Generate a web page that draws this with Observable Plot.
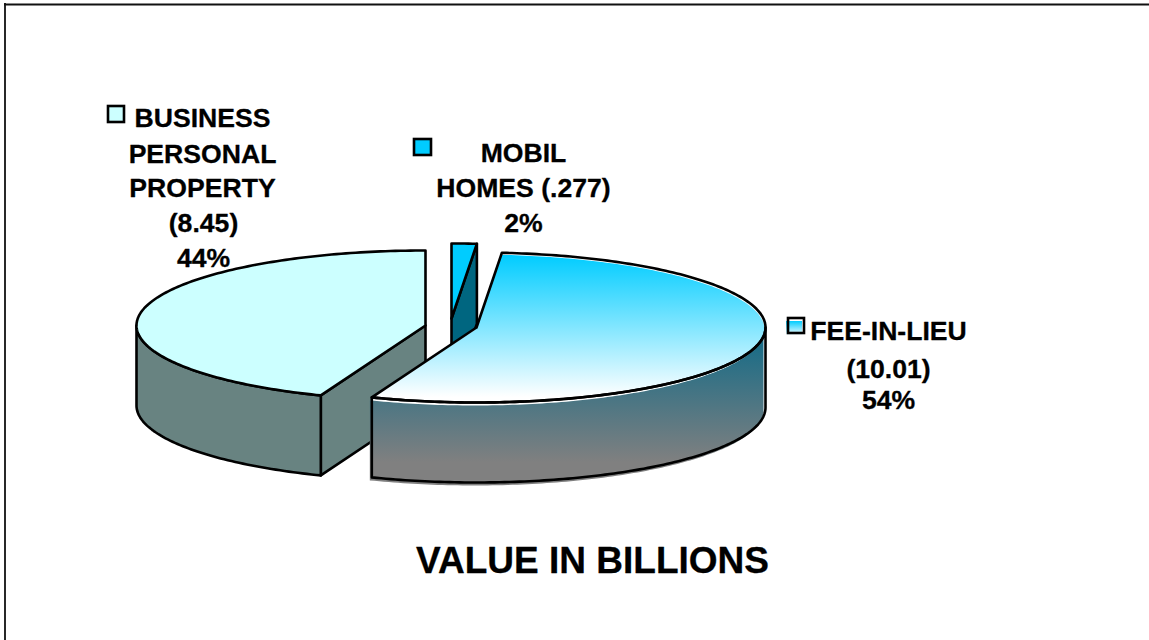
<!DOCTYPE html>
<html>
<head>
<meta charset="utf-8">
<style>html,body{margin:0;padding:0;background:#fff}svg{display:block}</style>
<script src="https://cdn.jsdelivr.net/npm/d3@7"></script>
<script src="https://cdn.jsdelivr.net/npm/@observablehq/plot@0.6"></script>
</head>
<body>
<script>
// ---- data ----
const categories = ["MOBIL HOMES", "FEE-IN-LIEU", "BUSINESS PERSONAL PROPERTY"];
const drawnShare = [1.4, 54.5, 44.1]; // percent of the circle each slice occupies, clockwise from 12 o'clock
const labelLines = [
  ["BUSINESS", "PERSONAL", "PROPERTY", "(8.45)", "44%"],
  ["MOBIL", "HOMES (.277)", "2%"],
  ["FEE-IN-LIEU", "(10.01)", "54%"]
];
const chartTitle = "VALUE IN BILLIONS";

// ---- layout ----
const W = 1149, H = 640;
const rx = 289, ry = 75, depth = 80;
const centers = {"MOBIL HOMES": [451, 318], "FEE-IN-LIEU": [476, 327], "BUSINESS PERSONAL PROPERTY": [425, 325]};
const labelLayout = [
  {x: [202, 202, 202, 203, 203], y: [126, 162, 196, 231, 266]},
  {x: [523, 523, 523], y: [161, 196, 231]},
  {x: [888, 888, 888], y: [339, 377, 408]}
];
const keys = [
  {x1: 108, x2: 124, y1: 106, y2: 122, fill: "#ccffff"},
  {x1: 414, x2: 431, y1: 139, y2: 155, fill: "#00ccff"},
  {x1: 788, x2: 804, y1: 318, y2: 333, fill: "url(#feeTop)"}
];

// ---- slices from the shares ----
let acc = 0;
const slices = categories.map((name, i) => {
  const a0 = acc; acc += drawnShare[i] * 3.6;
  return {name, a0, a1: acc, c: centers[name]};
});
const rad = Math.PI / 180;
const rimPt = (s, a, z = 0) => ({x: s.c[0] + rx * Math.sin(a * rad), y: s.c[1] - ry * Math.cos(a * rad) + z});
const arc = (s, a0, a1, z = 0) => {
  const n = Math.max(2, Math.ceil(Math.abs(a1 - a0)));
  return d3.range(n + 1).map(i => rimPt(s, a0 + (a1 - a0) * i / n, z));
};
const ctr = (s, z = 0) => ({x: s.c[0], y: s.c[1] + z});
const topFace = s => [ctr(s), ...arc(s, s.a0, s.a1), ctr(s)];
const sideFace = (s, a0, a1) => {
  const t = arc(s, a0, a1), b = arc(s, a0, a1, depth).reverse();
  return [...t, ...b, t[0]];
};
const wall = (s, a) => {
  const r = rimPt(s, a), rb = rimPt(s, a, depth);
  return [ctr(s), r, rb, ctr(s, depth), ctr(s)];
};
const [mobil, fee, biz] = slices;

const XY = {x: "x", y: "y"};
const sw = 2.6;
const face = (pts, fill, extra = {}) => Plot.line(pts, {...XY, fill, stroke: "none", ...extra});
const edge = pts => Plot.line(pts, {...XY, stroke: "#000", strokeWidth: sw, strokeLinejoin: "round"});
const both = (pts, fill) => [face(pts, fill), edge(pts)];

const bizDark = "#688381", mobilDark = "#006680", cyan = "#00ccff", pale = "#ccffff";

const defs = () => {
  const d = d3.create("svg:defs");
  d.html(`
    <linearGradient id="feeTop" x1="0" y1="0" x2="0" y2="1">
      <stop offset="0" stop-color="#00ccff"/><stop offset="0.95" stop-color="#ffffff"/>
    </linearGradient>
    <linearGradient id="feeSide" x1="0" y1="0" x2="0" y2="1">
      <stop offset="0" stop-color="#0f6a87"/><stop offset="0.85" stop-color="#808080"/>
    </linearGradient>`);
  return d.node();
};

const rows = labelLines.flatMap((ls, i) => ls.map((text, j) => ({text, x: labelLayout[i].x[j], y: labelLayout[i].y[j]})));
const font = "'Liberation Sans', Arial, sans-serif";

const plot = Plot.plot({
  width: W, height: H, margin: 0,
  style: {background: "#fff"},
  x: {domain: [0, W], range: [0, W], axis: null},
  y: {domain: [0, H], range: [0, H], axis: null},
  marks: [
    defs,
    Plot.ruleY([4], {x1: 4, x2: W, stroke: "#111", strokeWidth: 1.8}),
    Plot.ruleX([4.5], {y1: 3, y2: H, stroke: "#111", strokeWidth: 1.8}),

    // business slice
    both(wall(biz, biz.a0), bizDark),
    both(sideFace(biz, biz.a0, 270), bizDark),
    both(topFace(biz), pale),

    // mobile homes slice
    both(wall(mobil, mobil.a1), mobilDark),
    both(topFace(mobil), cyan),

    // fee-in-lieu slice, fills sit slightly lower-left of their outlines
    face(sideFace(fee, 90, fee.a1), "#fff"),
    face(topFace(fee), "#fff"),
    face(sideFace(fee, 90, fee.a1), "url(#feeSide)", {dx: -2, dy: 3}),
    face(topFace(fee), "url(#feeTop)", {dx: -1, dy: 2}),
    edge(sideFace(fee, 90, fee.a1)),
    edge(topFace(fee)),

    // legend keys
    Plot.rect(keys.slice(0, 2), {x1: "x1", x2: "x2", y1: "y1", y2: "y2", fill: "fill", stroke: "#000", strokeWidth: sw}),
    Plot.rect(keys.slice(2), {x1: "x1", x2: "x2", y1: "y1", y2: "y2", fill: "url(#feeTop)", dx: -2, dy: 3}),
    Plot.rect(keys.slice(2), {x1: "x1", x2: "x2", y1: "y1", y2: "y2", fill: "none", stroke: "#000", strokeWidth: sw}),

    // labels
    Plot.text(rows, {
      x: "x", y: "y", text: "text", textAnchor: "middle", lineAnchor: "bottom",
      fontFamily: font, fontWeight: "bold", fontSize: 26.6, fill: "#000", stroke: "#000", strokeWidth: 0.3
    }),
    Plot.text([chartTitle], {
      x: () => 592, y: () => 572, text: d => d, textAnchor: "middle", lineAnchor: "bottom",
      fontFamily: font, fontWeight: "bold", fontSize: 37, fill: "#000", stroke: "#000", strokeWidth: 0.3
    })
  ]
});
document.body.append(plot);
</script>
</body>
</html>
